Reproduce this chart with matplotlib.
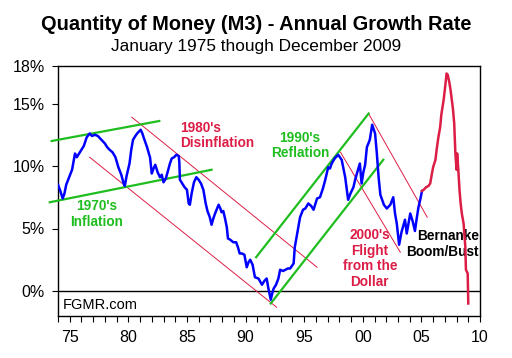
import matplotlib
matplotlib.use("Agg")
import matplotlib.pyplot as plt
from matplotlib.ticker import MultipleLocator

plt.rcParams["font.family"] = ["Liberation Sans", "DejaVu Sans"]

# M3 annual growth rate (%)
blue_years = [1974.0, 1974.2, 1974.4, 1974.55, 1974.7, 1974.95, 1975.2, 1975.45, 1975.6, 1975.8,
              1976.0, 1976.2, 1976.45, 1976.7, 1976.9, 1977.15, 1977.4, 1977.6, 1977.8, 1978.0,
              1978.2, 1978.4, 1978.65, 1978.9, 1979.15, 1979.4, 1979.6, 1979.7, 1979.85, 1980.1,
              1980.25, 1980.4, 1980.6, 1980.75, 1981.05, 1981.2, 1981.3, 1981.45, 1981.6, 1981.75,
              1981.85, 1982.0, 1982.15, 1982.3, 1982.5, 1982.7, 1982.85, 1983.0, 1983.2, 1983.4,
              1983.55, 1983.7, 1983.9, 1984.1, 1984.3, 1984.35, 1984.4, 1984.6, 1984.8, 1985.0,
              1985.15, 1985.25, 1985.4, 1985.6, 1985.8, 1986.0, 1986.2, 1986.4, 1986.6, 1986.75,
              1986.95, 1987.1, 1987.25, 1987.4, 1987.7, 1987.85, 1987.95, 1988.1, 1988.25, 1988.4,
              1988.5, 1988.7, 1988.95, 1989.2, 1989.35, 1989.5, 1989.7, 1989.9, 1990.1, 1990.25,
              1990.4, 1990.6, 1990.8, 1991.1, 1991.4, 1991.6, 1991.8, 1991.95, 1992.15, 1992.3,
              1992.4, 1992.6, 1992.8, 1992.95, 1993.2, 1993.4, 1993.6, 1993.8, 1994.1, 1994.2,
              1994.35, 1994.5, 1994.65, 1994.9, 1995.1, 1995.35, 1995.6, 1995.8, 1996.1, 1996.35,
              1996.6, 1996.8, 1997.05, 1997.2, 1997.35, 1997.6, 1997.9, 1998.2, 1998.35, 1998.5,
              1998.65, 1998.75, 1998.95, 1999.2, 1999.35, 1999.5, 1999.75, 1999.9, 2000.05, 2000.2,
              2000.35, 2000.6, 2000.8, 2001.05, 2001.2, 2001.35, 2001.5, 2001.8, 2002.05, 2002.35,
              2002.6, 2002.75, 2002.9, 2003.05, 2003.1, 2003.3, 2003.6, 2003.75, 2004.05, 2004.25,
              2004.45, 2004.6, 2004.75, 2004.9, 2005.05]
blue_vals = [8.5, 8.0, 7.4, 7.8, 8.5, 9.1, 9.7, 11.0, 10.7, 11.0,
             11.3, 11.6, 12.3, 12.6, 12.4, 12.5, 12.4, 12.2, 12.0, 11.8,
             11.5, 11.3, 11.1, 10.7, 9.9, 9.3, 8.6, 8.4, 9.2, 10.2,
             11.3, 12.1, 12.4, 12.6, 12.9, 12.6, 12.3, 11.9, 11.5, 11.0,
             10.7, 9.4, 9.8, 10.1, 9.5, 9.1, 9.3, 8.7, 9.0, 9.7,
             10.2, 10.6, 10.7, 10.9, 10.8, 10.3, 8.9, 8.6, 8.3, 8.1,
             7.0, 6.9, 7.8, 8.7, 9.1, 8.9, 8.6, 8.1, 7.0, 6.4,
             5.9, 5.3, 5.8, 6.2, 6.9, 6.6, 6.3, 6.4, 5.8, 5.1,
             4.2, 4.1, 3.9, 3.9, 3.5, 3.0, 3.0, 2.9, 1.9, 2.3,
             2.5, 2.1, 1.1, 1.0, 0.5, 0.8, 1.0, 0.2, -0.7, -0.1,
             0.2, 0.5, 1.0, 1.7, 1.6, 1.7, 1.8, 1.8, 2.2, 3.5,
             4.3, 5.1, 5.9, 6.5, 6.6, 7.0, 6.8, 6.5, 7.4, 7.5,
             8.2, 8.9, 9.9, 9.8, 10.2, 10.6, 10.9, 10.5, 9.8, 9.1,
             8.0, 7.3, 7.8, 8.3, 8.9, 9.4, 10.2, 8.6, 9.5, 10.1,
             11.5, 12.1, 13.3, 12.6, 11.0, 9.1, 7.7, 6.9, 6.6, 6.9,
             7.5, 6.2, 5.4, 4.1, 3.7, 4.7, 5.7, 4.6, 6.2, 5.6,
             4.8, 5.8, 6.7, 7.3, 8.0]

red_years = [2005.05, 2005.2, 2005.4, 2005.6, 2005.75, 2005.9, 2006.0, 2006.2, 2006.3, 2006.45,
             2006.6, 2006.7, 2006.9, 2007.0, 2007.15, 2007.25, 2007.4, 2007.5, 2007.7, 2007.8,
             2007.9, 2008.0, 2008.05, 2008.15, 2008.25, 2008.35, 2008.45, 2008.6, 2008.75, 2008.8,
             2008.95, 2009.0]
red_vals = [8.0, 8.1, 8.3, 8.4, 8.6, 9.4, 9.9, 10.5, 11.3, 12.3,
            13.1, 14.1, 15.3, 16.1, 17.4, 17.3, 16.6, 16.0, 14.5, 13.4,
            11.0, 9.7, 11.0, 9.7, 8.1, 7.0, 6.2, 5.4, 3.5, 1.7,
            1.4, -1.0]

# trend channels: (x0, y0, x1, y1)
green_lines = [(1973.46, 12.0, 1982.64, 13.6),
               (1973.3, 7.1, 1987.1, 9.7),
               (1990.9, 2.7, 2000.5, 14.2),
               (1992.15, -1.0, 2001.75, 10.5)]
red_lines = [(1980.3, 13.9, 1996.1, 1.9),
             (1976.7, 10.7, 1992.65, -1.3),
             (2000.55, 14.1, 2005.5, 5.9),
             (1998.1, 11.1, 2003.2, 3.1)]

y_ticks = [0, 5, 10, 15, 18]
x_ticks = [1975, 1980, 1985, 1990, 1995, 2000, 2005, 2010]
x_labels = ["75", "80", "85", "90", "95", "00", "05", "10"]

GREEN = "#1fbd1f"
CRIMSON = "#dc1e46"

fig = plt.figure(figsize=(5.12, 3.58), dpi=100)
ax = fig.add_axes([58 / 512, 1 - 316 / 358, 422 / 512, 250 / 358])

ax.axhline(0, color="black", linewidth=1.0, zorder=1)
for x0, y0, x1, y1 in red_lines:
    ax.plot([x0, x1], [y0, y1], color=CRIMSON, linewidth=0.7, zorder=2, clip_on=False)
for x0, y0, x1, y1 in green_lines:
    ax.plot([x0, x1], [y0, y1], color=GREEN, linewidth=1.6, zorder=3, clip_on=False)

ax.plot(blue_years, blue_vals, color="#0000ff", linewidth=1.8, zorder=4)
ax.plot(red_years, red_vals, color=CRIMSON, linewidth=1.8, zorder=4)

ax.set_xlim(1974, 2010)
ax.set_ylim(-2, 18)
ax.set_yticks(y_ticks)
ax.set_yticklabels([f"{t}%" for t in y_ticks])
ax.set_xticks(x_ticks)
ax.set_xticklabels(x_labels)
ax.xaxis.set_minor_locator(MultipleLocator(1))
ax.tick_params(axis="y", direction="out", length=4.5, width=0.8, pad=5, labelsize=11.5)
ax.tick_params(axis="x", which="both", direction="out", length=4, width=0.8, pad=6, labelsize=11.5)
for s in ax.spines.values():
    s.set_linewidth(1.0)

bold = dict(fontsize=9.8, fontweight="bold", linespacing=1.15)
ax.text(1977.33, 6.15, "1970's\nInflation", color=GREEN, ha="center", va="center",
        multialignment="center", **bold)
ax.text(1984.4, 12.45, "1980's\nDisinflation", color=CRIMSON, ha="left", va="center", **bold)
ax.text(1994.65, 11.65, "1990's\nReflation", color=GREEN, ha="center", va="center",
        multialignment="center", **bold)
ax.text(2000.6, 2.6, "2000's\nFlight\nfrom the\nDollar", color=CRIMSON, ha="center",
        va="center", multialignment="center", **bold)
ax.text(2009.9, 3.75, "Bernanke\nBoom/Bust", color="black", ha="right", va="center",
        multialignment="right", **bold)
ax.text(1974.4, -1.1, "FGMR.com", color="black", fontsize=10.5, ha="left", va="center")

fig.text(0.5, 1 - 25 / 358, "Quantity of Money (M3) - Annual Growth Rate",
         ha="center", va="center", fontsize=14.4, fontweight="bold")
fig.text(0.5, 1 - 47 / 358, "January 1975 though December 2009",
         ha="center", va="center", fontsize=12.4)

fig.savefig("out.png", dpi=100)
